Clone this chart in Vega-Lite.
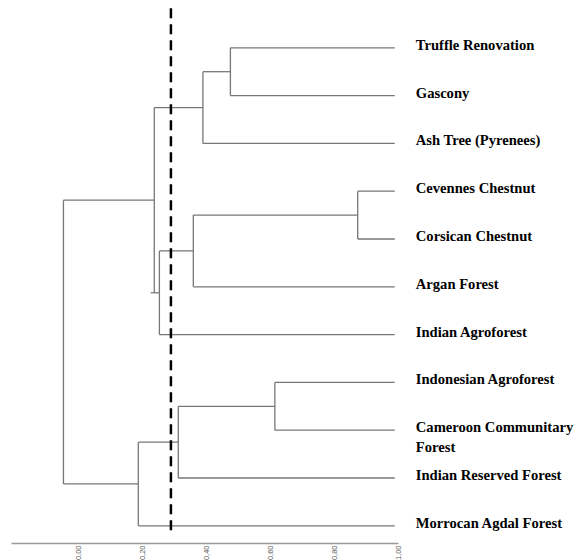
{
  "$schema": "https://vega.github.io/schema/vega-lite/v6.json",
  "autosize": "none",
  "width": 387,
  "height": 543,
  "padding": {"left": 11, "top": 0, "right": 179, "bottom": 17},
  "background": "white",
  "config": {"view": {"stroke": null}},
  "datasets": {
    "links": [
      {"x1": 0.476, "x2": 0.99, "y1": 0, "y2": 0},
      {"x1": 0.476, "x2": 0.99, "y1": 1, "y2": 1},
      {"x1": 0.39, "x2": 0.99, "y1": 2, "y2": 2},
      {"x1": 0.874, "x2": 0.99, "y1": 3, "y2": 3},
      {"x1": 0.874, "x2": 0.99, "y1": 4, "y2": 4},
      {"x1": 0.36, "x2": 0.99, "y1": 5, "y2": 5},
      {"x1": 0.254, "x2": 0.99, "y1": 6, "y2": 6},
      {"x1": 0.615, "x2": 0.99, "y1": 7, "y2": 7},
      {"x1": 0.615, "x2": 0.99, "y1": 8, "y2": 8},
      {"x1": 0.313, "x2": 0.99, "y1": 9, "y2": 9},
      {"x1": 0.188, "x2": 0.99, "y1": 10, "y2": 10},
      {"x1": 0.39, "x2": 0.476, "y1": 0.5, "y2": 0.5},
      {"x1": 0.238, "x2": 0.39, "y1": 1.25, "y2": 1.25},
      {"x1": 0.36, "x2": 0.874, "y1": 3.5, "y2": 3.5},
      {"x1": 0.254, "x2": 0.36, "y1": 4.25, "y2": 4.25},
      {"x1": 0.227, "x2": 0.254, "y1": 5.125, "y2": 5.125},
      {"x1": -0.046, "x2": 0.238, "y1": 3.1875, "y2": 3.1875},
      {"x1": 0.313, "x2": 0.615, "y1": 7.5, "y2": 7.5},
      {"x1": 0.188, "x2": 0.313, "y1": 8.25, "y2": 8.25},
      {"x1": -0.046, "x2": 0.188, "y1": 9.125, "y2": 9.125},
      {"x1": 0.476, "x2": 0.476, "y1": 0, "y2": 1},
      {"x1": 0.39, "x2": 0.39, "y1": 0.5, "y2": 2},
      {"x1": 0.874, "x2": 0.874, "y1": 3, "y2": 4},
      {"x1": 0.36, "x2": 0.36, "y1": 3.5, "y2": 5},
      {"x1": 0.254, "x2": 0.254, "y1": 4.25, "y2": 6},
      {"x1": 0.238, "x2": 0.238, "y1": 1.25, "y2": 5.125},
      {"x1": 0.615, "x2": 0.615, "y1": 7, "y2": 8},
      {"x1": 0.313, "x2": 0.313, "y1": 7.5, "y2": 9},
      {"x1": 0.188, "x2": 0.188, "y1": 8.25, "y2": 10},
      {"x1": -0.046, "x2": -0.046, "y1": 3.1875, "y2": 9.125}
    ],
    "leaves": [
      {"site": "Truffle Renovation", "height": 0.99, "pos": 0},
      {"site": "Gascony", "height": 0.99, "pos": 1},
      {"site": "Ash Tree (Pyrenees)", "height": 0.99, "pos": 2},
      {"site": "Cevennes Chestnut", "height": 0.99, "pos": 3},
      {"site": "Corsican Chestnut", "height": 0.99, "pos": 4},
      {"site": "Argan Forest", "height": 0.99, "pos": 5},
      {"site": "Indian Agroforest", "height": 0.99, "pos": 6},
      {"site": "Indonesian Agroforest", "height": 0.99, "pos": 7},
      {"site": "Cameroon Communitary\nForest", "height": 0.99, "pos": 8},
      {"site": "Indian Reserved  Forest", "height": 0.99, "pos": 9},
      {"site": "Morrocan  Agdal Forest", "height": 0.99, "pos": 10}
    ],
    "cut": [
      {"level": 0.29, "top": -0.83, "bottom": 10.15}
    ]
  },
  "layer": [
    {
      "data": {"name": "links"},
      "mark": {"type": "rule", "color": "#777777", "strokeWidth": 1.3},
      "encoding": {
        "x": {
          "field": "x1",
          "type": "quantitative",
          "scale": {"domain": [-0.21, 1.0], "nice": false, "zero": false},
          "axis": {
            "title": null,
            "values": [0, 0.2, 0.4, 0.6, 0.8, 1.0],
            "labelExpr": "replace(format(datum.value, '.2f'), '.', ',')",
            "labelAngle": 270,
            "labelFont": "Liberation Sans",
            "labelFontSize": 7.5,
            "labelColor": "#555555",
            "labelPadding": 2,
            "ticks": false,
            "grid": false,
            "domainColor": "#9a9a9a",
            "domainWidth": 1.5
          }
        },
        "x2": {"field": "x2"},
        "y": {
          "field": "y1",
          "type": "quantitative",
          "scale": {"domain": [-1, 10.36], "reverse": true, "nice": false, "zero": false},
          "axis": null
        },
        "y2": {"field": "y2"}
      }
    },
    {
      "data": {"name": "cut"},
      "mark": {"type": "rule", "color": "black", "strokeWidth": 2.5, "strokeDash": [10, 6]},
      "encoding": {
        "x": {"field": "level", "type": "quantitative"},
        "y": {"field": "top", "type": "quantitative"},
        "y2": {"field": "bottom"}
      }
    },
    {
      "data": {"name": "leaves"},
      "mark": {
        "type": "text",
        "align": "left",
        "baseline": "middle",
        "dx": 21,
        "dy": -2,
        "font": "Liberation Serif",
        "fontWeight": "bold",
        "fontSize": 14.6,
        "lineBreak": "\n",
        "lineHeight": 20,
        "color": "black"
      },
      "encoding": {
        "x": {"field": "height", "type": "quantitative"},
        "y": {"field": "pos", "type": "quantitative"},
        "text": {"field": "site", "type": "nominal"}
      }
    }
  ]
}
